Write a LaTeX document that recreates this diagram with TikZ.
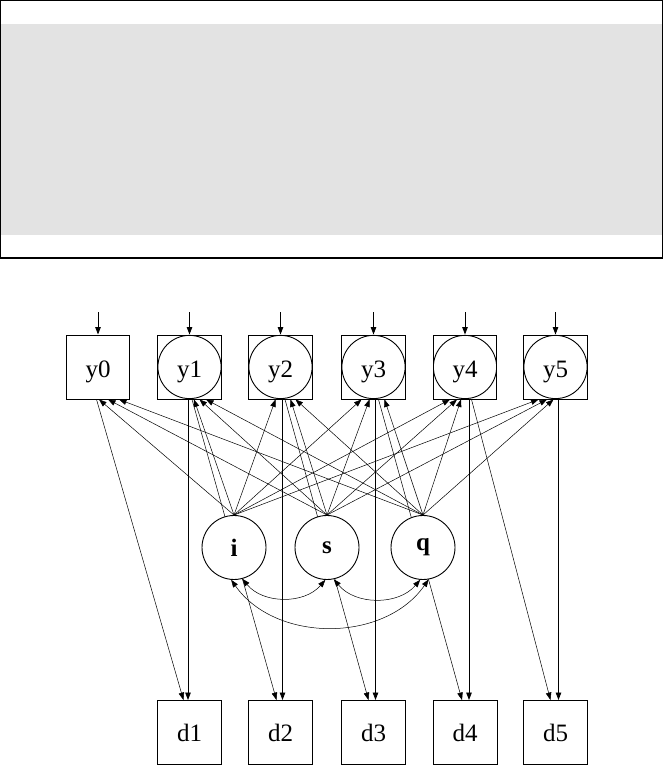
\documentclass[tikz,border=0pt]{standalone}
\usepackage{fontspec}
\setmainfont{Liberation Serif}
\usetikzlibrary{arrows.meta,calc}
\pgfdeclarelayer{bg}
\pgfsetlayers{bg,main}
\definecolor{bandgray}{HTML}{E3E3E3}
\begin{document}
\begin{tikzpicture}[x=1pt,y=1pt,
  >={Triangle[length=7.5pt,width=5.5pt]},
  obs/.style={draw, line width=0.9pt, minimum width=63.5pt, minimum height=64pt, inner sep=0pt, fill=white, font=\fontsize{25}{29}\selectfont, text height=24pt, text depth=2pt},
  obslat/.style={obs, path picture={\draw[line width=0.9pt] (path picture bounding box.center) circle (31.6pt);}},
  dbox/.style={draw, line width=0.9pt, minimum width=64pt, minimum height=64pt, inner sep=0pt, fill=white, font=\fontsize{25}{29}\selectfont},
  lat/.style={draw, circle, line width=0.9pt, minimum size=64pt, inner sep=0pt, fill=white, font=\fontsize{25}{29}\selectfont\bfseries},
  topar/.style={->, line width=0.9pt},
  reg/.style={->, line width=0.5pt},
  vert/.style={->, line width=0.9pt},
  cov/.style={<->, line width=0.5pt}]
\useasboundingbox (0,0) rectangle (663,765);
% header frame
\fill[bandgray] (1.3,741) rectangle (661.7,530);
\draw[line width=1.3pt] (0.65,764.35) rectangle (662.35,507);
% observed / latent nodes
\node[obs] (y0) at (98,398) {y0};
\node[obslat] (y1) at (189.5,398) {y1};
\node[obslat] (y2) at (280.5,398) {y2};
\node[obslat] (y3) at (373.5,398) {y3};
\node[obslat] (y4) at (465,398) {y4};
\node[obslat] (y5) at (555.5,398) {y5};
\node[dbox] (d1) at (189.5,32.5) {d1};
\node[dbox] (d2) at (280.5,32.5) {d2};
\node[dbox] (d3) at (373.5,32.5) {d3};
\node[dbox] (d4) at (465,32.5) {d4};
\node[dbox] (d5) at (555.5,32.5) {d5};
\node[lat] (i) at (234,217.5) {i};
\node[lat] (s) at (327,217.5) {s};
\node[lat] (q) at (423,217.5) {q};
\foreach \n/\x in {0/98,1/189.5,2/280.5,3/373.5,4/465,5/555.5}{
  \coordinate (t\n) at (\x,452.5);
}
\begin{pgfonlayer}{bg}
% residual arrows
\foreach \n in {0,...,5}{\draw[topar] (t\n) -- (y\n.north);}
% growth factors to outcomes
\foreach \y/\a/\b/\c in {y0/1/10/21, y1/4.5/10/16.5, y2/-5/10/15, y3/-12/-4/11, y4/-15/-8/-4, y5/-17/-8.5/-2}{
  \draw[reg] (i.north) -- ($(\y.south)+(\a,0)$);
  \draw[reg] (s.north) -- ($(\y.south)+(\b,0)$);
  \draw[reg] (q.north) -- ($(\y.south)+(\c,0)$);
}
% y_k -> d_k
\foreach \k/\o in {1/-1.5,2/2,3/2,4/4,5/3}{
  \draw[vert] ($(y\k.south)+(\o,0)$) -- ($(d\k.north)+(\o,0)$);
}
% y_{k-1} -> d_k
\foreach \p/\k/\a/\b in {0/1/-1.5/-6, 1/2/2.5/-4, 2/3/4.5/-5, 3/4/5/-3, 4/5/6.5/-5}{
  \draw[reg] ($(y\p.south)+(\a,0)$) -- ($(d\k.north)+(\b,0)$);
}
% covariances
\draw[cov] (i.-75) to[bend right=50] (s.-93);
\draw[cov] (s.-78) to[bend right=50] (q.-95);
\draw[cov] (i.-95) to[bend right=55] (q.-80);
\end{pgfonlayer}
\end{tikzpicture}
\end{document}
